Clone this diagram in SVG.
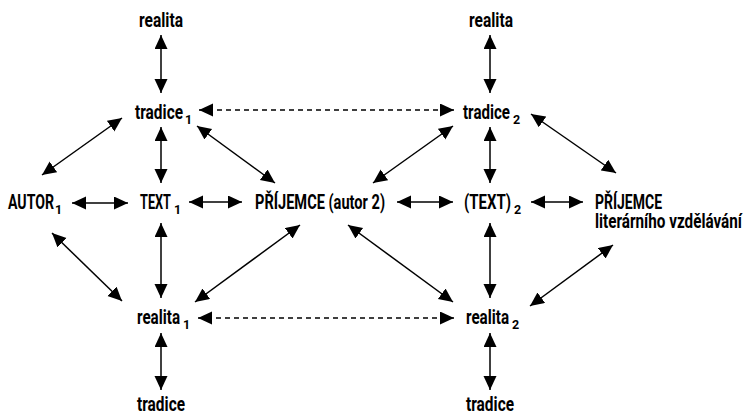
<svg xmlns="http://www.w3.org/2000/svg" width="746" height="416" viewBox="0 0 746 416">
<style>
.t{font-family:Roboto,"Liberation Sans",sans-serif;font-weight:700;font-size:20.5px;fill:#000}
.s{font-size:12.5px}
.a{stroke:#000;stroke-width:1.5;fill:none;marker-start:url(#h);marker-end:url(#h)}
.d{stroke-dasharray:5 4}
</style>
<defs>
<marker id="h" markerUnits="userSpaceOnUse" markerWidth="15" markerHeight="14" refX="14" refY="6.5" orient="auto-start-reverse">
<path d="M0,0 L14,6.5 L0,13 Z" fill="#000"/>
</marker>
</defs>
<rect width="746" height="416" fill="#fff"/>
<g id="connectors">
<line class="a" x1="161" y1="35" x2="161" y2="93"/>
<line class="a" x1="161" y1="127" x2="161" y2="183"/>
<line class="a" x1="161" y1="223" x2="161" y2="298"/>
<line class="a" x1="161" y1="333" x2="161" y2="390"/>
<line class="a" x1="490" y1="35" x2="490" y2="93"/>
<line class="a" x1="490" y1="127" x2="490" y2="183"/>
<line class="a" x1="490" y1="223" x2="490" y2="298"/>
<line class="a" x1="490" y1="333" x2="490" y2="390"/>
<line class="a" x1="72" y1="203" x2="128" y2="203"/>
<line class="a" x1="189" y1="202" x2="242" y2="202"/>
<line class="a" x1="397" y1="202" x2="453" y2="202"/>
<line class="a" x1="531" y1="202" x2="583" y2="202"/>
<line class="a d" x1="199" y1="110" x2="454" y2="110"/>
<line class="a d" x1="198" y1="318" x2="454" y2="318"/>
<line class="a" x1="42" y1="175" x2="122" y2="118"/>
<line class="a" x1="197" y1="126" x2="275" y2="183"/>
<line class="a" x1="373" y1="183" x2="453" y2="126"/>
<line class="a" x1="531" y1="114" x2="616" y2="173"/>
<line class="a" x1="52" y1="233" x2="122" y2="301"/>
<line class="a" x1="300" y1="225" x2="195" y2="302"/>
<line class="a" x1="348" y1="225" x2="453" y2="302"/>
<line class="a" x1="613" y1="245" x2="530" y2="306"/>
</g>
<g id="realita-top1"><text class="t" x="139" y="27" textLength="44" lengthAdjust="spacingAndGlyphs">realita</text></g>
<g id="realita-top2"><text class="t" x="469" y="27" textLength="44" lengthAdjust="spacingAndGlyphs">realita</text></g>
<g id="tradice1"><text class="t" x="135" y="119"><tspan textLength="48" lengthAdjust="spacingAndGlyphs">tradice</tspan><tspan class="s" dx="2" dy="5">1</tspan></text></g>
<g id="tradice2"><text class="t" x="463" y="119"><tspan textLength="47" lengthAdjust="spacingAndGlyphs">tradice</tspan><tspan class="s" dx="3" dy="5">2</tspan></text></g>
<g id="autor1"><text class="t" x="8" y="209"><tspan textLength="46" lengthAdjust="spacingAndGlyphs">AUTOR</tspan><tspan class="s" dx="1" dy="5">1</tspan></text></g>
<g id="text1"><text class="t" x="140" y="209"><tspan textLength="31" lengthAdjust="spacingAndGlyphs">TEXT</tspan><tspan class="s" dx="3" dy="5">1</tspan></text></g>
<g id="prijemce-autor2"><text class="t" x="255" y="209" textLength="130" lengthAdjust="spacingAndGlyphs">PŘÍJEMCE (autor 2)</text></g>
<g id="text2"><text class="t" x="464" y="209"><tspan textLength="47" lengthAdjust="spacingAndGlyphs">(TEXT)</tspan><tspan class="s" dx="3" dy="5">2</tspan></text></g>
<g id="prijemce-lit"><text class="t" x="595" y="209" textLength="67" lengthAdjust="spacingAndGlyphs">PŘÍJEMCE</text><text class="t" x="595" y="228" textLength="147" lengthAdjust="spacingAndGlyphs">literárního vzdělávání</text></g>
<g id="realita1"><text class="t" x="137" y="324"><tspan textLength="43" lengthAdjust="spacingAndGlyphs">realita</tspan><tspan class="s" dx="3" dy="5">1</tspan></text></g>
<g id="realita2"><text class="t" x="466" y="324"><tspan textLength="43" lengthAdjust="spacingAndGlyphs">realita</tspan><tspan class="s" dx="3" dy="5">2</tspan></text></g>
<g id="tradice-bot1"><text class="t" x="137" y="411" textLength="48" lengthAdjust="spacingAndGlyphs">tradice</text></g>
<g id="tradice-bot2"><text class="t" x="466" y="411" textLength="48" lengthAdjust="spacingAndGlyphs">tradice</text></g>
</svg>
